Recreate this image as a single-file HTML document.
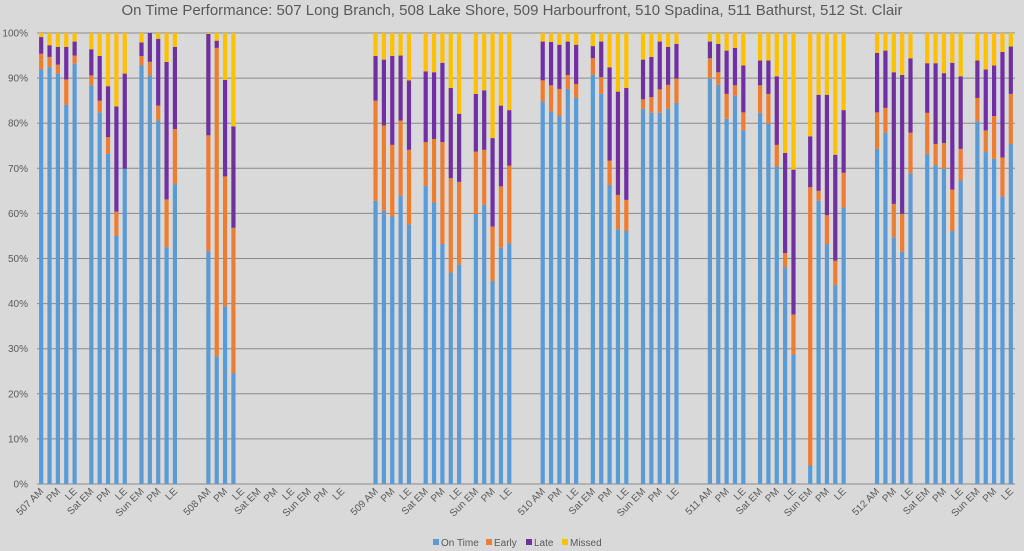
<!DOCTYPE html>
<html><head><meta charset="utf-8"><style>
html,body{margin:0;padding:0;background:#d9d9d9;}
svg{display:block;font-family:"Liberation Sans",sans-serif;}
</style></head><body>
<svg id="chart" width="1024" height="551" viewBox="0 0 1024 551" xmlns="http://www.w3.org/2000/svg">
<rect x="0" y="0" width="1024" height="551" fill="#d9d9d9"/>
<text x="512" y="15" text-anchor="middle" font-size="15" fill="#595959">On Time Performance: 507 Long Branch, 508 Lake Shore, 509 Harbourfront, 510 Spadina, 511 Bathurst, 512 St. Clair</text>
<g id="grid"></g><g id="bars"></g><g id="xlabels"></g>
<g font-size="10" fill="#595959">
<rect x="433" y="539" width="6" height="6" fill="#5b9bd5"/>
<text x="441" y="546">On Time</text>
<rect x="486" y="539" width="6" height="6" fill="#ed7d31"/>
<text x="494" y="546">Early</text>
<rect x="526" y="539" width="6" height="6" fill="#7030a0"/>
<text x="534" y="546">Late</text>
<rect x="562" y="539" width="6" height="6" fill="#ffc000"/>
<text x="570" y="546">Missed</text>
</g>
</svg>
<script>
const routes = ["507","508","509","510","511","512"];
const periodLabels = ["AM","","PM","","LE","Sat EM","","PM","","LE","Sun EM","","PM","","LE"];
const yTicks = [0,10,20,30,40,50,60,70,80,90,100];
const onTime = [
91.9,92.4,91.0,84.1,93.2, 88.4,82.4,73.2,55.0,69.9, 92.8,90.6,80.6,52.5,66.5,
51.6,28.3,39.4,24.6,0, 0,0,0,0,0, 0,0,0,0,0,
62.8,60.6,59.3,63.9,57.6, 66.1,62.4,53.2,46.9,48.7, 59.9,61.9,45.0,52.4,53.4,
84.8,82.6,81.6,87.6,85.6, 90.7,86.5,66.3,56.5,56.1, 83.2,82.3,82.3,83.2,84.5,
89.9,88.5,81.0,86.1,78.4, 82.3,79.9,70.4,48.0,28.7, 4.1,62.8,53.2,44.1,61.3,
74.3,77.9,54.7,51.5,68.9, 73.2,70.7,69.9,56.1,67.3, 80.4,73.6,72.1,63.8,75.4];
const early = [
3.5,2.3,2.0,5.6,1.8, 2.2,2.6,3.7,5.4,0, 2.1,3.0,3.3,10.6,12.2,
25.7,68.4,28.8,32.2,0, 0,0,0,0,0, 0,0,0,0,0,
22.2,18.9,15.9,16.7,16.5, 9.7,14.1,22.6,20.9,18.3, 13.8,12.2,12.1,13.6,17.2,
4.7,5.8,6.0,3.1,3.1, 3.7,3.7,5.4,7.6,6.9, 2.1,3.5,5.2,5.3,5.4,
4.5,2.8,5.5,2.3,4.0, 6.1,6.6,4.8,3.2,8.9, 61.7,2.2,6.4,5.4,7.7,
8.1,5.5,7.4,8.4,9.0, 9.1,4.7,5.7,9.2,7.0, 5.2,4.8,9.5,8.6,11.1];
const late = [
3.7,2.6,3.9,7.2,3.1, 5.8,9.9,11.3,23.3,21.1, 3.0,6.4,14.8,30.5,18.2,
22.5,1.6,21.4,22.5,0, 0,0,0,0,0, 0,0,0,0,0,
9.9,14.6,19.7,14.4,15.4, 15.7,14.8,17.6,20.0,15.1, 12.8,13.2,19.6,17.9,12.3,
8.6,9.6,9.8,7.4,8.7, 2.7,7.9,20.7,22.9,24.8, 8.8,8.9,10.6,8.4,7.7,
3.7,6.3,9.6,8.3,10.4, 5.5,7.4,15.2,22.2,32.1, 11.3,21.3,26.7,23.5,13.9,
13.2,12.7,29.2,30.8,16.5, 11.0,17.9,15.5,28.1,16.1, 8.3,13.5,11.2,23.4,10.5];
const missed = [
0.9,2.7,3.1,3.1,1.9, 3.6,5.1,11.8,16.3,9.0, 2.1,0,1.3,6.4,3.1,
0.2,1.7,10.4,20.7,0, 0,0,0,0,0, 0,0,0,0,0,
5.1,5.9,5.1,5.0,10.5, 8.5,8.7,6.6,12.2,17.9, 13.5,12.7,23.3,16.1,17.1,
1.9,2.0,2.6,1.9,2.6, 2.9,1.9,7.6,13.0,12.2, 5.9,5.3,1.9,3.1,2.4,
1.9,2.4,3.9,3.3,7.2, 6.1,6.1,9.6,26.6,30.3, 22.9,13.7,13.7,27.0,17.1,
4.4,3.9,8.7,9.3,5.6, 6.7,6.7,8.9,6.6,9.6, 6.1,8.1,7.2,4.2,3.0];

const NS = "http://www.w3.org/2000/svg";
const plotLeft = 37, plotRight = 1015, plotTop = 33, plotBottom = 484, nSlots = 117;
const slotW = (plotRight - plotLeft) / nSlots;
function yScale(v){ return plotBottom - v / 100 * (plotBottom - plotTop); }
function slotOf(i){ const r = Math.floor(i / 15), k = i % 15; return r * 20 + Math.floor(k / 5) * 6 + (k % 5); }
function xc(i){ return plotLeft + (slotOf(i) + 0.5) * slotW; }

const grid = document.getElementById('grid');
yTicks.forEach(t => {
  const l = document.createElementNS(NS, 'line');
  l.setAttribute('x1', plotLeft); l.setAttribute('x2', plotRight);
  l.setAttribute('y1', yScale(t)); l.setAttribute('y2', yScale(t));
  l.setAttribute('stroke', '#8a8a8a'); l.setAttribute('stroke-width', '1');
  
  
  grid.appendChild(l);
  const tx = document.createElementNS(NS, 'text');
  tx.setAttribute('x', 28); tx.setAttribute('y', yScale(t) + 3.5);
  tx.setAttribute('text-anchor', 'end'); tx.setAttribute('font-size', '10'); tx.setAttribute('fill', '#595959');
  tx.textContent = t + '%';
  
  
  grid.appendChild(tx);
});

const barsG = document.getElementById('bars');
const series = [["on-time", onTime, "#5b9bd5"], ["early", early, "#ed7d31"], ["late", late, "#7030a0"], ["missed", missed, "#ffc000"]];
const bw = 4.2;
for (let i = 0; i < onTime.length; i++) {
  let acc = 0;
  series.forEach(s => {
    const v = s[1][i];
    if (v > 0) {
      const r = document.createElementNS(NS, 'rect');
      r.setAttribute('x', xc(i) - bw / 2); r.setAttribute('width', bw);
      r.setAttribute('y', yScale(acc + v)); r.setAttribute('height', yScale(acc) - yScale(acc + v));
      r.setAttribute('fill', s[2]);
      
      
      barsG.appendChild(r);
    }
    acc += v;
  });
}

const xl = document.getElementById('xlabels');
for (let i = 0; i < onTime.length; i++) {
  const k = i % 15;
  let lab = periodLabels[k];
  if (!lab) continue;
  if (k === 0) lab = routes[Math.floor(i / 15)] + ' ' + lab;
  const tx = document.createElementNS(NS, 'text');
  const x = xc(i) + 3, yy = 492;
  tx.setAttribute('x', x); tx.setAttribute('y', yy);
  tx.setAttribute('text-anchor', 'end'); tx.setAttribute('font-size', '10'); tx.setAttribute('fill', '#595959');
  tx.setAttribute('transform', 'rotate(-45 ' + x + ' ' + yy + ')');
  tx.textContent = lab;
  
  
  xl.appendChild(tx);
}
</script>
</body></html>
